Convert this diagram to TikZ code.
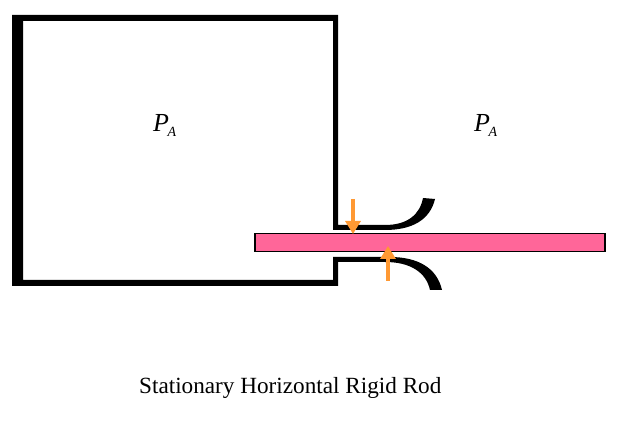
\documentclass[tikz,border=0pt]{standalone}
\usepackage{fontspec}
\setmainfont{Liberation Serif}
\usetikzlibrary{arrows.meta}
\definecolor{rodpink}{HTML}{FF6699}
\definecolor{arroworange}{HTML}{FF9933}
\newcommand{\pressurelabel}{\textit{P\kern-1.5pt\raisebox{-5pt}{\fontsize{14}{14}\selectfont A}}}
\tikzset{
  wallfill/.style={fill=black,draw=none},
  rodbox/.style={fill=rodpink,draw=black,line width=1.5pt},
  forcearrow/.style={draw=arroworange,line width=4.7pt,-{Triangle[length=13pt,width=15pt]}},
  plabel/.style={inner sep=0pt,anchor=base west,font=\fontsize{26}{26}\selectfont},
  caption/.style={inner sep=0pt,anchor=base west,font=\fontsize{23.2}{26}\selectfont}
}
\begin{document}
\begin{tikzpicture}[x=1pt,y=-1pt]
\useasboundingbox[fill=white] (0,0) rectangle (625,422);
% chamber walls
\path[wallfill] (12,15) -- (338,15) -- (338,225) -- (385,225)
  .. controls (408,225) and (420,214) .. (423,198) -- (435,199)
  .. controls (430,220) and (412,230) .. (385,230) -- (333,230)
  -- (333,21) -- (23,21) -- (23,280) -- (333,280) -- (333,257) -- (390,257)
  .. controls (418,257) and (437,268) .. (442,290) -- (430,290)
  .. controls (426,272) and (410,262) .. (385,262) -- (338,262)
  -- (338,286) -- (12,286) -- cycle;
% rod
\node[rodbox,minimum width=350pt,minimum height=18pt,inner sep=0pt,anchor=north west] (rod) at (254,233) {};
% force arrows
\coordinate (a1s) at (353,199);
\coordinate (a1e) at (353,234);
\coordinate (a2s) at (388,281);
\coordinate (a2e) at (388,246);
\draw[forcearrow] (a1s) -- (a1e);
\draw[forcearrow] (a2s) -- (a2e);
% labels
\node[plabel] (pl) at (153,132) {\pressurelabel};
\node[plabel] (pr) at (474,132) {\pressurelabel};
\node[caption] (cap) at (139,394) {Stationary Horizontal Rigid Rod};
\end{tikzpicture}
\end{document}
